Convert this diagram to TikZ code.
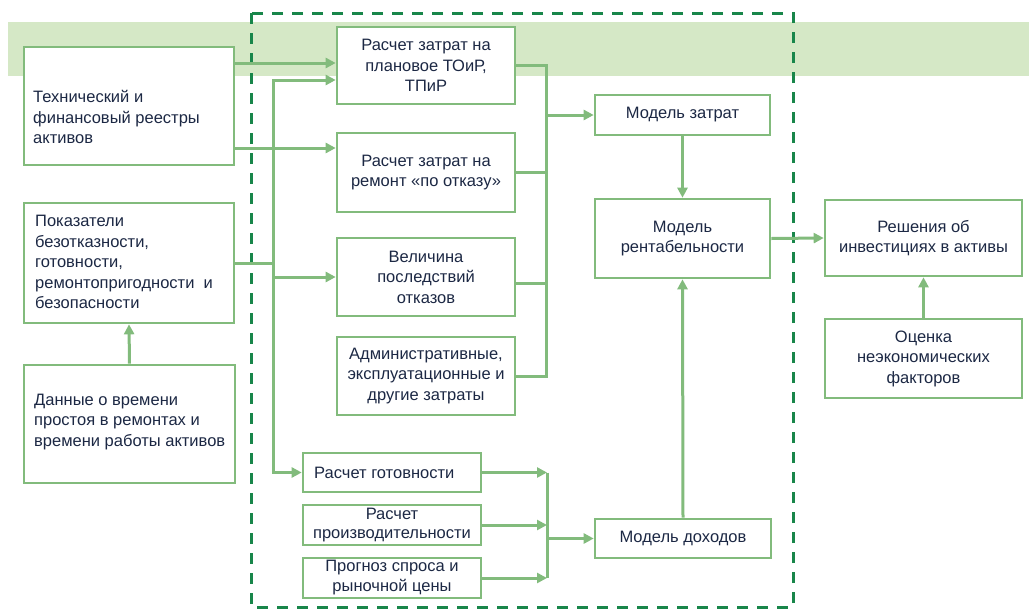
\documentclass[tikz,border=0pt]{standalone}
\usepackage{fontspec}
\setmainfont{Liberation Sans}
\usetikzlibrary{arrows.meta,calc}
\definecolor{bandgreen}{RGB}{213,232,198}
\definecolor{boxgreen}{RGB}{130,187,124}
\definecolor{dashgreen}{RGB}{24,134,74}
\definecolor{txtblue}{RGB}{28,40,68}
\begin{document}
\begin{tikzpicture}[x=1pt,y=-1pt,
  box/.style={draw=boxgreen, line width=2.6pt, fill=white, inner sep=0pt,
    text=txtblue, font=\fontsize{16.5}{20.5}\selectfont, align=center},
  txt/.style={text=txtblue, font=\fontsize{16.5}{20.5}\selectfont, inner sep=0pt, align=left, anchor=west},
  conn/.style={draw=boxgreen, line width=3pt},
  arr/.style={conn, -{Triangle[length=10pt,width=10pt]}}]
\useasboundingbox (0,0) rectangle (1029,611);
% background band and dashed frame
\fill[bandgreen] (8,22) rectangle (1029,76);
\draw[dashgreen, line width=3pt, dash pattern=on 11pt off 9pt] (251,13) rectangle (793,607);
% left column
\node[box, minimum width=210pt, minimum height=118pt] (A) at (129,106) {};
\node[txt] (Atext) at (33,117) {Технический и\\финансовый реестры\\активов};
\node[box, minimum width=210pt, minimum height=120pt] (B) at (129,263) {};
\node[txt] (Btext) at (35,262) {Показатели\\безотказности,\\готовности,\\ремонтопригодности\hspace{0.55em}и\\безопасности};
\node[box, minimum width=211pt, minimum height=118pt] (C) at (129.5,424) {};
\node[txt] (Ctext) at (34,422) {Данные о времени\\простоя в ремонтах и\\времени работы активов};
% middle column
\node[box, minimum width=178pt, minimum height=77pt] (D1) at (426,65.5) {Расчет затрат на\\плановое ТОиР,\\ТПиР};
\node[box, minimum width=178pt, minimum height=79pt] (D2) at (426,172.5) {Расчет затрат на\\ремонт «по отказу»};
\node[box, minimum width=178pt, minimum height=78pt] (D3) at (426,277) {Величина\\последствий\\отказов};
\node[box, minimum width=178pt, minimum height=78pt] (D4) at (426,376) {Административные,\\эксплуатационные и\\другие затраты};
\node[box, minimum width=178pt, minimum height=39pt] (E1) at (392,472.5) {};
\node[txt] (E1text) at (314,472.5) {Расчет готовности};
\node[box, minimum width=178pt, minimum height=40pt, font=\fontsize{16.5}{19}\selectfont] (E2) at (392,525) {Расчет\\производительности};
\node[box, minimum width=178pt, minimum height=40pt, font=\fontsize{16.5}{20}\selectfont] (E3) at (392,578) {Прогноз спроса и\\рыночной цены};
% right column
\node[box, minimum width=175pt, minimum height=40pt] (F1) at (682.5,115) {Модель затрат};
\node[box, minimum width=175pt, minimum height=79pt] (F2) at (682.5,238.5) {Модель\\рентабельности};
\node[box, minimum width=176pt, minimum height=39pt] (F3) at (683,538.5) {Модель доходов};
\node[box, minimum width=197pt, minimum height=76pt] (G1) at (923.5,238) {Решения об\\инвестициях в активы};
\node[box, minimum width=197pt, minimum height=79pt] (G2) at (923.5,358.5) {Оценка\\неэкономических\\факторов};
% helper coordinates
\coordinate (busL) at (273,0);
\coordinate (busR) at (546,0);
\coordinate (busE) at (547,0);
\coordinate (d1a) at ([yshift=2.5pt]D1.west);
\coordinate (d1b) at ([yshift=-14.5pt]D1.west);
\coordinate (d2a) at ([yshift=24.5pt]D2.west);
\coordinate (d3o) at ([yshift=-6pt]D3.east);
% connectors from left column
\draw[arr] (d1a -| A.east) -- (d1a);
\draw[arr] (d2a -| A.east) -- (d2a);
\draw[conn] (B.east) -- (B.east -| busL);
\draw[arr] (B.east -| busL) |- (d1b);
\draw[arr] (B.east -| busL) |- (E1.west);
\draw[arr] (D3.west -| busL) -- (D3.west);
\draw[arr] (C.north) -- (B.south);
% cost bus
\draw[conn] (D1.east) -- (D1.east -| busR) -- (D4.east -| busR) -- (D4.east);
\draw[conn] (D2.east) -- (D2.east -| busR);
\draw[conn] (d3o) -- (d3o -| busR);
\draw[arr] (F1.west -| busR) -- (F1.west);
% revenue bus
\draw[arr] (E1.east) -- (E1.east -| busE);
\draw[arr] (E2.east) -- (E2.east -| busE);
\draw[arr] (E3.east) -- (E3.east -| busE);
\draw[conn] (E1.east -| busE) -- (E3.east -| busE);
\draw[arr] (F3.west -| busE) -- (F3.west);
% models
\draw[arr] (F1.south) -- (F2.north);
\draw[arr] (F3.north) -- (F2.south);
\draw[arr] (F2.east) -- (G1.west);
\draw[arr] (G2.north) -- (G1.south);
\end{tikzpicture}
\end{document}
